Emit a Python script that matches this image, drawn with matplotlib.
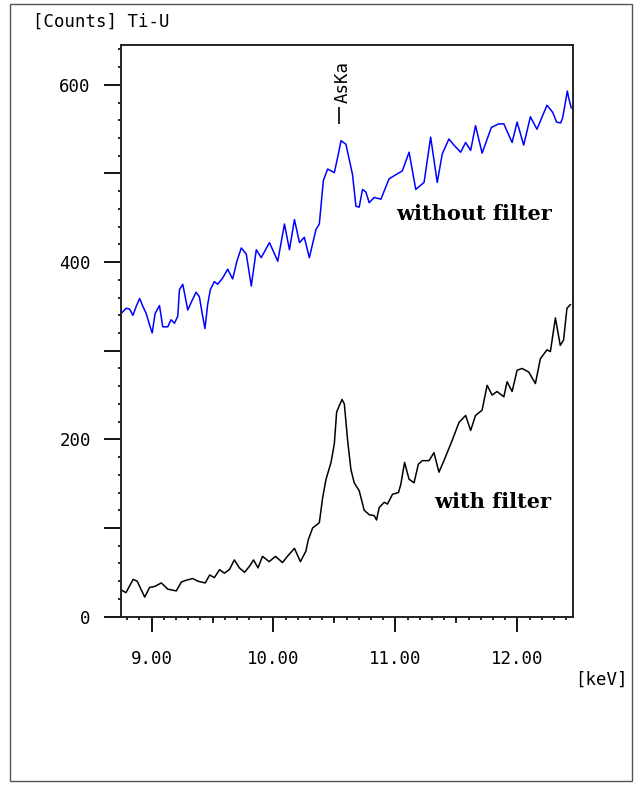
import numpy as np
import matplotlib
matplotlib.use('Agg')
import matplotlib.pyplot as plt
from matplotlib.ticker import FixedLocator, MultipleLocator, FuncFormatter
from matplotlib.patches import Rectangle

# spectrum without filter (blue)
kev_nofilter = [8.751, 8.792, 8.820, 8.847, 8.874, 8.902, 8.929, 8.956, 8.984, 9.005,
                9.029, 9.065, 9.092, 9.133, 9.160, 9.188, 9.215, 9.229, 9.256, 9.297,
                9.330, 9.365, 9.392, 9.419, 9.438, 9.460, 9.482, 9.515, 9.542, 9.583,
                9.624, 9.665, 9.700, 9.736, 9.777, 9.818, 9.859, 9.899, 9.967, 10.035,
                10.090, 10.131, 10.172, 10.213, 10.253, 10.294, 10.349, 10.376, 10.409, 10.444,
                10.499, 10.526, 10.554, 10.594, 10.648, 10.676, 10.703, 10.730, 10.758, 10.785,
                10.826, 10.881, 10.948, 11.057, 11.112, 11.167, 11.235, 11.289, 11.343, 11.384,
                11.439, 11.480, 11.535, 11.576, 11.617, 11.657, 11.711, 11.787, 11.848, 11.889,
                11.957, 11.998, 12.052, 12.107, 12.161, 12.243, 12.290, 12.322, 12.355, 12.372,
                12.410, 12.420, 12.442]
counts_nofilter = [342, 348, 347, 340, 350, 359, 350, 342, 329, 320,
                   342, 351, 327, 327, 335, 331, 339, 369, 375, 346,
                   356, 366, 361, 339, 325, 352, 369, 378, 375, 382,
                   392, 381, 401, 416, 409, 373, 414, 405, 422, 401,
                   443, 414, 448, 422, 428, 405, 437, 443, 492, 505,
                   501, 518, 537, 533, 499, 463, 462, 482, 479, 467,
                   473, 471, 494, 503, 524, 482, 490, 541, 490, 522,
                   539, 532, 524, 535, 526, 554, 523, 552, 556, 556,
                   535, 558, 532, 564, 550, 577, 569, 558, 557, 563,
                   593, 586, 574]

# spectrum with filter (black)
kev_filter = [8.753, 8.790, 8.849, 8.882, 8.944, 8.984, 9.025, 9.080, 9.133, 9.203,
              9.244, 9.283, 9.338, 9.379, 9.440, 9.477, 9.515, 9.558, 9.597, 9.638,
              9.679, 9.720, 9.763, 9.804, 9.836, 9.873, 9.910, 9.965, 10.016, 10.074,
              10.114, 10.172, 10.221, 10.266, 10.286, 10.321, 10.376, 10.403, 10.431, 10.472,
              10.499, 10.518, 10.540, 10.562, 10.581, 10.608, 10.635, 10.662, 10.703, 10.744,
              10.785, 10.826, 10.845, 10.867, 10.908, 10.935, 10.976, 11.025, 11.044, 11.075,
              11.112, 11.153, 11.188, 11.221, 11.276, 11.316, 11.357, 11.398, 11.466, 11.521,
              11.576, 11.617, 11.657, 11.711, 11.752, 11.793, 11.834, 11.889, 11.916, 11.957,
              11.998, 12.039, 12.093, 12.148, 12.189, 12.243, 12.271, 12.312, 12.352, 12.379,
              12.407, 12.435]
counts_filter = [30, 27, 42, 40, 22, 33, 34, 38, 31, 29,
                 39, 41, 43, 40, 38, 47, 44, 53, 49, 53,
                 64, 55, 50, 57, 64, 55, 68, 62, 68, 61,
                 68, 77, 62, 74, 87, 100, 106, 134, 155, 174,
                 195, 231, 238, 245, 240, 199, 166, 151, 142, 120,
                 115, 114, 109, 123, 129, 127, 138, 140, 149, 174,
                 155, 151, 172, 176, 176, 185, 163, 176, 199, 219,
                 227, 210, 227, 233, 261, 250, 254, 248, 265, 254,
                 278, 280, 276, 263, 291, 301, 299, 337, 306, 312,
                 348, 352]

peak_name = 'AsKa'
peak_kev = 10.534

x_major = [9, 10, 11, 12]
x_mid = [9.5, 10.5, 11.5]
x_labels = ['9.00', '10.00', '11.00', '12.00']
y_major = [0, 100, 200, 300, 400, 500, 600]

mono = 'DejaVu Sans Mono'
fs = 12.5

fig = plt.figure(figsize=(6.39, 7.85), dpi=100)
fig.patches.append(Rectangle((0.0156, 0.0051), 0.9734, 0.9898, transform=fig.transFigure,
                             fill=False, edgecolor='#555555', linewidth=1.0))

ax = fig.add_axes([0.1889, 0.2145, 0.7083, 0.7282])
ax.plot(kev_nofilter, counts_nofilter, color='#0000ff', linewidth=1.1)
ax.plot(kev_filter, counts_filter, color='black', linewidth=1.1)

ax.set_xlim(8.747, 12.459)
ax.set_ylim(0, 645)

for s in ax.spines.values():
    s.set_linewidth(1.4)
    s.set_color('#222222')

ax.xaxis.set_major_locator(FixedLocator(x_major))
ax.set_xticklabels(x_labels, family=mono, fontsize=fs)
ax.xaxis.set_minor_locator(MultipleLocator(0.1))
ax.tick_params(axis='x', which='major', direction='out', length=11, width=1.3, pad=13)
ax.tick_params(axis='x', which='minor', direction='out', length=2.2, width=1.2)

# the half-keV ticks are a bit longer than the others
sec = ax.secondary_xaxis('bottom')
sec.set_xticks(x_mid)
sec.set_xticklabels([])
sec.tick_params(length=4, width=1.2)
sec.spines['bottom'].set_visible(False)

ax.yaxis.set_major_locator(FixedLocator(y_major))
ax.yaxis.set_major_formatter(FuncFormatter(lambda v, p: '%d' % v if v % 200 == 0 else ''))
ax.yaxis.set_minor_locator(MultipleLocator(20))
ax.tick_params(axis='y', which='major', direction='out', length=12.5, width=1.3, pad=9)
ax.tick_params(axis='y', which='minor', direction='out', length=2.2, width=1.2)
for lab in ax.get_yticklabels():
    lab.set_family(mono)
    lab.set_fontsize(fs)

fig.text(0.052, 0.972, '[Counts] Ti-U', family=mono, fontsize=fs, ha='left', va='center')
fig.text(0.982, 0.134, '[keV]', family=mono, fontsize=fs, ha='right', va='center')

# peak marker
ax.vlines(peak_kev, 556, 575, color='black', linewidth=1.2)
ax.text(peak_kev + 0.03, 579, peak_name, family=mono, fontsize=fs, rotation=90,
        ha='center', va='bottom')

ax.text(12.281, 447, 'without filter', family='DejaVu Serif', fontweight='bold',
        fontsize=15, ha='right', va='baseline')
ax.text(12.281, 123, 'with filter', family='DejaVu Serif', fontweight='bold',
        fontsize=15, ha='right', va='baseline')

fig.savefig('out.png', dpi=100)
